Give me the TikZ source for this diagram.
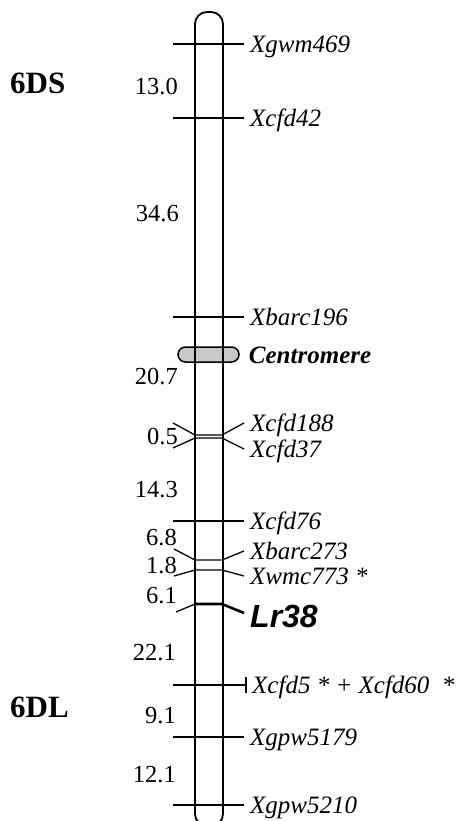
\documentclass[tikz,border=0pt]{standalone}
\usepackage{fontspec}
\setmainfont{Liberation Serif}
\newfontfamily\lrfont{Liberation Sans}
\usetikzlibrary{positioning}
\definecolor{mapInk}{RGB}{0,0,0}
\definecolor{mapGrey}{RGB}{200,200,200}

\begin{document}
\begin{tikzpicture}[x=1pt, y=-1pt,
    chrom/.style={draw=mapInk, line width=1.8pt, rounded corners=12pt},
    centro/.style={draw=mapInk, fill=mapGrey, line width=1.5pt, rounded corners=7.5pt,
    minimum width=61pt, minimum height=15pt, inner sep=0pt},
    tick/.style={draw=mapInk, line width=1.3pt},
    mrk/.style={anchor=west, inner xsep=6pt, inner ysep=0pt, text height=17pt, text depth=0pt,
    font=\fontsize{25}{30}\selectfont\itshape},
    dist/.style={anchor=base east, inner sep=0pt, font=\fontsize{24.5}{30}\selectfont},
    arm/.style={anchor=base west, inner sep=0pt, font=\fontsize{31}{36}\selectfont\bfseries}
  ]
  \useasboundingbox (0,0) rectangle (459,821);

  % arms
  \node[arm] (ds) at (10,94) {6DS};
  \node[arm] (dl) at (10,717) {6DL};

  % centromere under the outline
  \node[centro] (cen) at (208.5,354.5) {};
  \draw[chrom] (195,12) rectangle (223,826);

  % marker names
  \node[mrk] (gwm469) at (244,44) {Xgwm469};
  \node[mrk] (cfd42) at (244,118) {Xcfd42};
  \node[mrk] (barc196) at (244,317) {Xbarc196};
  \node[mrk, font=\fontsize{25}{30}\selectfont\bfseries\itshape, right=3pt of cen] (centlbl) {Centromere};
  \node[mrk] (cfd188) at (244,423) {Xcfd188};
  \node[mrk] (cfd37) at (244,449) {Xcfd37};
  \node[mrk] (cfd76) at (244,521) {Xcfd76};
  \node[mrk] (barc273) at (244,551) {Xbarc273};
  \node[mrk] (wmc773) at (244,576) {Xwmc773 *};
  \node[mrk, text height=23pt, font=\lrfont\fontsize{32}{36}\selectfont\bfseries\itshape] (lr38) at (244,616) {Lr38};
  \node[mrk] (cfd5) at (246,685) {Xcfd5 * + Xcfd60\ \ *};
  \node[mrk] (gpw5179) at (244,737) {Xgpw5179};
  \node[mrk] (gpw5210) at (244,805) {Xgpw5210};

  % marker lines
  \draw[tick] (gwm469.west) -- ++(-71,0);
  \draw[tick] (cfd42.west) -- ++(-71,0);
  \draw[tick] (barc196.west) -- ++(-71,0);
  \draw[tick] (cfd188.west) -- (222,435) -- (195,435) -- (173,423);
  \draw[tick] (cfd37.west) -- (222,438) -- (195,438) -- (173,448);
  \draw[tick] (cfd76.west) -- ++(-71,0);
  \draw[tick] (barc273.west) -- (222,560) -- (195,560) -- (174,549);
  \draw[tick] (wmc773.west) -- (222,570) -- (195,570) -- (174,576);
  \draw[tick] (195,604) -- (176,612);
  \draw[tick, line width=2.6pt] ([yshift=3pt]lr38.west) -- (222,604) -- (195,604);
  \draw[tick] (cfd5.west) -- ++(-73,0);
  \draw[tick] ([yshift=8pt]cfd5.west) -- ([yshift=-8pt]cfd5.west);
  \draw[tick] (gpw5179.west) -- ++(-71,0);
  \draw[tick] (gpw5210.west) -- ++(-71,0);

  % distances
  \node[dist] (d1) at (178,95) {13.0};
  \node[dist] (d2) at (179,221) {34.6};
  \node[dist] (d3) at (178,384) {20.7};
  \node[dist] (d4) at (178,444) {0.5};
  \node[dist] (d5) at (178,497) {14.3};
  \node[dist] (d6) at (177,545) {6.8};
  \node[dist] (d7) at (177,573) {1.8};
  \node[dist] (d8) at (177,603) {6.1};
  \node[dist] (d9) at (176,660) {22.1};
  \node[dist] (d10) at (176,723) {9.1};
  \node[dist] (d11) at (176,782) {12.1};
\end{tikzpicture}
\end{document}
